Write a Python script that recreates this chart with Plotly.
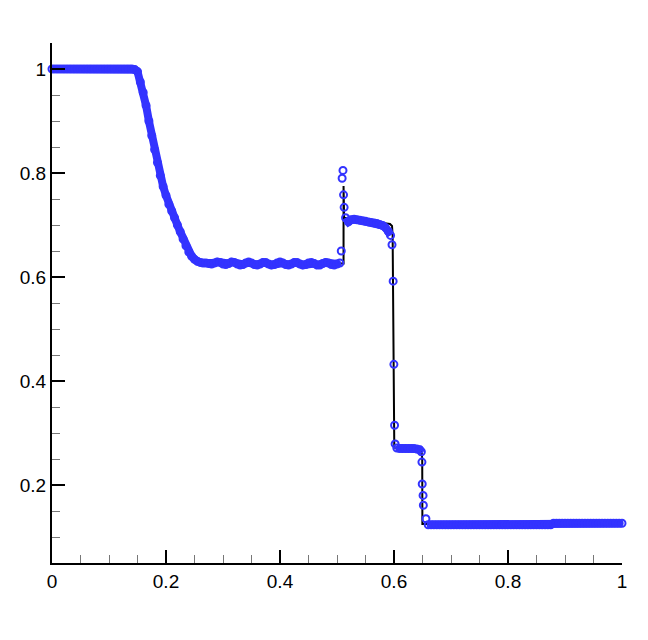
import plotly.graph_objects as go

# numerical solution (blue circles)
x_left = [0.000, 0.005, 0.010, 0.015, 0.020, 0.025, 0.030, 0.035, 0.040, 0.045,
          0.050, 0.055, 0.060, 0.065, 0.070, 0.075, 0.080, 0.085, 0.090, 0.095,
          0.100, 0.105, 0.110, 0.115, 0.120, 0.125, 0.130, 0.135, 0.140, 0.145]
y_left = [1.000, 1.000, 1.000, 1.000, 1.000, 1.000, 1.000, 1.000, 1.000, 1.000,
          1.000, 1.000, 1.000, 1.000, 1.000, 1.000, 1.000, 1.000, 1.000, 1.000,
          1.000, 1.000, 1.000, 1.000, 1.000, 1.000, 1.000, 1.000, 1.000, 0.999]

x_rare = [0.150, 0.155, 0.160, 0.165, 0.170, 0.175, 0.180, 0.185, 0.190, 0.195,
          0.200, 0.205, 0.210, 0.215, 0.220, 0.225, 0.230, 0.235, 0.240, 0.245,
          0.250, 0.255, 0.260]
y_rare = [0.995, 0.975, 0.955, 0.930, 0.900, 0.872, 0.845, 0.820, 0.795, 0.774,
          0.757, 0.740, 0.727, 0.714, 0.700, 0.687, 0.673, 0.660, 0.648, 0.640,
          0.634, 0.630, 0.628]

x_plat = [0.265, 0.270, 0.275, 0.280, 0.285, 0.290, 0.295, 0.300, 0.305, 0.310,
          0.315, 0.320, 0.325, 0.330, 0.335, 0.340, 0.345, 0.350, 0.355, 0.360,
          0.365, 0.370, 0.375, 0.380, 0.385, 0.390, 0.395, 0.400, 0.405, 0.410,
          0.415, 0.420, 0.425, 0.430, 0.435, 0.440, 0.445, 0.450, 0.455, 0.460,
          0.465, 0.470, 0.475, 0.480, 0.485, 0.490, 0.495, 0.500, 0.505]
y_plat = [0.627, 0.627, 0.626, 0.625, 0.627, 0.629, 0.628, 0.625, 0.624, 0.626,
          0.629, 0.628, 0.625, 0.623, 0.624, 0.627, 0.629, 0.627, 0.624, 0.623,
          0.625, 0.628, 0.628, 0.625, 0.623, 0.624, 0.627, 0.629, 0.627, 0.624,
          0.623, 0.625, 0.628, 0.628, 0.625, 0.623, 0.624, 0.627, 0.628, 0.626,
          0.623, 0.623, 0.626, 0.628, 0.627, 0.624, 0.623, 0.625, 0.627]

x_contact = [0.5075, 0.5090, 0.5105, 0.5115, 0.5125]
y_contact = [0.650, 0.790, 0.805, 0.758, 0.734]

x_mid = [0.515, 0.520, 0.525, 0.530, 0.535, 0.540, 0.545, 0.550, 0.555, 0.560,
         0.565, 0.570, 0.575, 0.580, 0.585, 0.590, 0.594]
y_mid = [0.714, 0.706, 0.710, 0.711, 0.710, 0.709, 0.708, 0.707, 0.706, 0.705,
         0.704, 0.703, 0.701, 0.699, 0.695, 0.688, 0.680]

x_shock = [0.5965, 0.5985, 0.5998, 0.6010, 0.6020]
y_shock = [0.662, 0.592, 0.432, 0.315, 0.279]

x_post = [0.605, 0.610, 0.615, 0.620, 0.625, 0.630, 0.635, 0.640, 0.645, 0.648]
y_post = [0.271, 0.270, 0.270, 0.270, 0.270, 0.270, 0.270, 0.269, 0.268, 0.264]

x_front = [0.6490, 0.6495, 0.6510, 0.6515, 0.6560]
y_front = [0.244, 0.202, 0.180, 0.161, 0.135]

x_right = [0.660, 0.665, 0.670, 0.675, 0.680, 0.685, 0.690, 0.695, 0.700, 0.705,
           0.710, 0.715, 0.720, 0.725, 0.730, 0.735, 0.740, 0.745, 0.750, 0.755,
           0.760, 0.765, 0.770, 0.775, 0.780, 0.785, 0.790, 0.795, 0.800, 0.805,
           0.810, 0.815, 0.820, 0.825, 0.830, 0.835, 0.840, 0.845, 0.850, 0.855,
           0.860, 0.865, 0.870, 0.875,
           0.880, 0.885, 0.890, 0.895, 0.900, 0.905, 0.910, 0.915, 0.920, 0.925,
           0.930, 0.935, 0.940, 0.945, 0.950, 0.955, 0.960, 0.965, 0.970, 0.975,
           0.980, 0.985, 0.990, 0.995, 1.000]
y_right = [0.1235, 0.1235, 0.1235, 0.1235, 0.1235, 0.1235, 0.1235, 0.1235, 0.1235, 0.1235,
           0.1235, 0.1235, 0.1235, 0.1235, 0.1235, 0.1235, 0.1235, 0.1235, 0.1235, 0.1235,
           0.1235, 0.1235, 0.1235, 0.1235, 0.1235, 0.1235, 0.1235, 0.1235, 0.1235, 0.1235,
           0.1235, 0.1235, 0.1235, 0.1235, 0.1235, 0.1235, 0.1235, 0.1235, 0.1235, 0.1235,
           0.1235, 0.1235, 0.1235, 0.1235,
           0.1265, 0.1265, 0.1265, 0.1265, 0.1265, 0.1265, 0.1265, 0.1265, 0.1265, 0.1265,
           0.1265, 0.1265, 0.1265, 0.1265, 0.1265, 0.1265, 0.1265, 0.1265, 0.1265, 0.1265,
           0.1265, 0.1265, 0.1265, 0.1265, 0.1265]

# reference solution (black line)
x_ref = [0.0, 0.148, 0.155, 0.165, 0.175, 0.185, 0.195, 0.205, 0.215, 0.225,
         0.235, 0.245, 0.255, 0.262, 0.5115, 0.5115, 0.5125, 0.550, 0.585, 0.593,
         0.5965, 0.5976, 0.6005, 0.620, 0.648, 0.6495, 0.6498, 1.0]
y_ref = [1.0, 1.0, 0.978, 0.930, 0.872, 0.820, 0.774, 0.740, 0.714, 0.687,
         0.660, 0.640, 0.630, 0.626, 0.626, 0.775, 0.714, 0.708, 0.704, 0.702,
         0.698, 0.680, 0.272, 0.270, 0.269, 0.250, 0.125, 0.125]

BLUE = 'rgb(51,51,255)'

# the smooth parts are so densely sampled that the circles merge into a band
bands = [
    (x_left + x_rare + x_plat, y_left + y_rare + y_plat),
    (x_mid, y_mid),
    (x_post, y_post),
    (x_right, y_right),
]
isolated_x = x_contact + x_shock + x_front
isolated_y = y_contact + y_shock + y_front

fig = go.Figure()
fig.add_trace(go.Scatter(x=x_ref, y=y_ref, mode='lines',
                         line=dict(color='black', width=2), cliponaxis=False))
for bx, by in bands:
    fig.add_trace(go.Scatter(x=bx, y=by, mode='lines+markers', cliponaxis=False,
                             line=dict(color=BLUE, width=8),
                             marker=dict(symbol='circle-open', size=7, color=BLUE,
                                         line=dict(width=2))))
fig.add_trace(go.Scatter(x=isolated_x, y=isolated_y, mode='markers', cliponaxis=False,
                         marker=dict(symbol='circle-open', size=7, color=BLUE,
                                     line=dict(width=2))))

axis_style = dict(showgrid=False, zeroline=False, showline=True, linecolor='black', linewidth=2,
                  ticks='inside', ticklen=13, tickwidth=2, tickcolor='black',
                  tickfont=dict(family='Liberation Sans, Arial', size=19, color='black'),
                  minor=dict(ticks='inside', ticklen=8, tickwidth=1, tickcolor='#777777',
                             dtick=0.05, tick0=0))

fig.update_xaxes(range=[0, 1], tick0=0, dtick=0.2, **axis_style)
fig.update_yaxes(range=[0.05, 1.05], tick0=0, dtick=0.2, **axis_style)

fig.update_layout(width=640, height=632, showlegend=False,
                  plot_bgcolor='white', paper_bgcolor='white',
                  margin=dict(l=40, r=26, t=35, b=77))

fig.write_html("out.html")
